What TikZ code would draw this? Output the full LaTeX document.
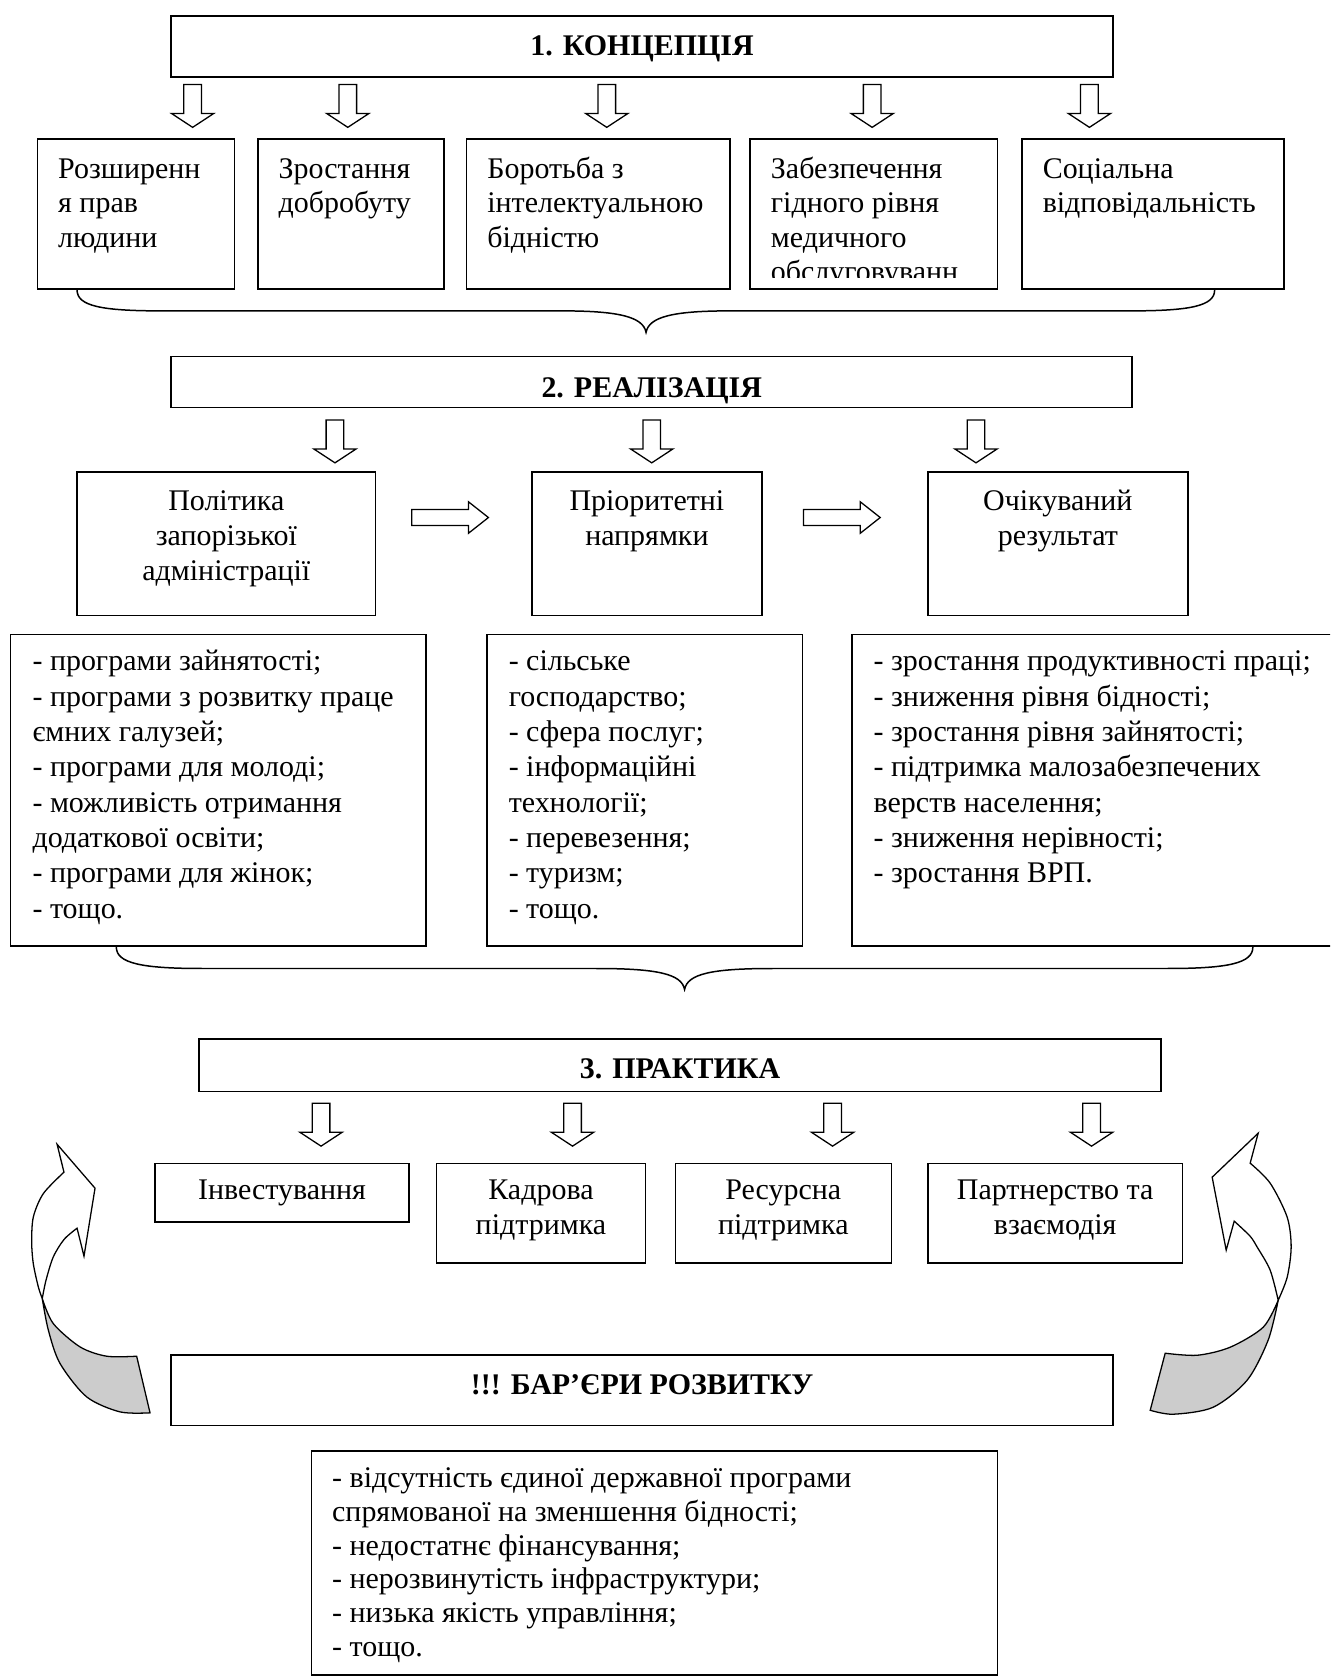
\documentclass[tikz,border=0pt]{standalone}
\usepackage{fontspec}
\setmainfont{Liberation Serif}
\usetikzlibrary{fit}
\tikzset{
  lw/.style={line width=0.7pt},
  box/.style={lw, draw, inner sep=0pt},
  txt/.style={inner sep=0pt, font=\fontsize{14}{16}\selectfont},
  txtb/.style={inner sep=0pt, font=\fontsize{14}{16}\selectfont\bfseries},
  txtr/.style={inner sep=0pt, font=\fontsize{14}{16.25}\selectfont, align=center},
  txtl/.style={inner sep=0pt, font=\fontsize{14}{16.5}\selectfont, align=left},
  txtf/.style={inner sep=0pt, font=\fontsize{14}{15.8}\selectfont, align=left},
  downarr/.pic={\draw[line width=0.6pt, fill=white] (-8.25,0) -- (8.25,0) -- (8.25,27) -- (19.8,27) -- (0,40) -- (-19.8,27) -- (-8.25,27) -- cycle;},
  rightarr/.pic={\draw[line width=0.6pt, fill=white] (0,-7.5) -- (53,-7.5) -- (53,-14.75) -- (71.7,0) -- (53,14.75) -- (53,7.5) -- (0,7.5) -- cycle;},
  ribbonfront/.style={line width=0.6pt, fill=white},
  ribbonback/.style={line width=0.6pt, fill=gray!40}
}
\begin{document}
\begin{tikzpicture}[x=0.5pt,y=-0.5pt]
\useasboundingbox (0,0) rectangle (1243,1568);
\fill[white] (0,0) rectangle (1243,1568);
\clip (0,0) rectangle (1243,1568);

% ---------- 1. Concept ----------
\node[box, fit={(160,15) (1040,72)}] (k1) {};
\node[txtb, anchor=base] (k1t) at (600,52) {1. КОНЦЕПЦІЯ};
\foreach \x in {180,325,567,815,1018} \pic at (\x,79) {downarr};

% (base anchor of a multi-line text = baseline of its last line)
\node[box, fit={(35,130) (219,270)}] (b1) {};
\node[txt, anchor=base west, align=left] (b1t) at (54,231) {Розширенн\\я прав\\людини};
\node[box, fit={(241,130) (415,270)}] (b2) {};
\node[txt, anchor=base west, align=left] (b2t) at (260,199) {Зростання\\добробуту};
\node[box, fit={(436,130) (682,270)}] (b3) {};
\node[txt, anchor=base west, align=left] (b3t) at (455,231) {Боротьба з\\інтелектуальною\\бідністю};
\node[box, fit={(701,130) (932,270)}] (b4) {};
\begin{scope}
\clip (701,130) rectangle (932,259);
\node[txt, anchor=base west, align=left] (b4t) at (720,263) {Забезпечення\\гідного рівня\\медичного\\обслуговуванн};
\end{scope}
\node[box, fit={(955,130) (1200,270)}] (b5) {};
\node[txt, anchor=base west, align=left] (b5t) at (974,199) {Соціальна\\відповідальність};

% brace 1
\draw[lw] (72,271) .. controls (72,286) and (95,290.5) .. (151,290.5) -- (525,290.5)
  .. controls (578,290.5) and (601,296) .. (603.7,310.6)
  .. controls (606.4,296) and (629,290.5) .. (682,290.5) -- (1056,290.5)
  .. controls (1112,290.5) and (1135,286) .. (1135,271);

% ---------- 2. Realisation ----------
\node[box, fit={(160,333) (1058,381)}] (k2) {};
\node[txtb, anchor=base] (k2t) at (609,371) {2. РЕАЛІЗАЦІЯ};
\foreach \x in {313,609,912} \pic at (\x,392.5) {downarr};

\node[box, fit={(72,441) (351,575)}] (c1) {};
\node[txtr, anchor=base] (c1t) at (211.5,542) {Політика\\запорізької\\адміністрації};
\node[box, fit={(497,441) (712,575)}] (c2) {};
\node[txtr, anchor=base] (c2t) at (604.5,509.5) {Пріоритетні\\напрямки};
\node[box, fit={(867,441) (1110,575)}] (c3) {};
\node[txtr, anchor=base] (c3t) at (988.5,509.5) {Очікуваний\\результат};
\pic at (384.7,483.6) {rightarr};
\pic at (750.8,483.6) {rightarr};

\node[box, fit={(10,593) (398,884)}] (d1) {};
\node[txtl, anchor=base west] (d1t) at (30,858) {- програми зайнятості;\\- програми з розвитку праце\\ємних галузей;\\- програми для молоді;\\- можливість отримання\\додаткової освіти;\\- програми для жінок;\\- тощо.};
\node[box, fit={(455,593) (750,884)}] (d2) {};
\node[txtl, anchor=base west] (d2t) at (475,858) {- сільське\\господарство;\\- сфера послуг;\\- інформаційні\\технології;\\- перевезення;\\- туризм;\\- тощо.};
\node[box, fit={(796,593) (1270,884)}] (d3) {};
\node[txtl, anchor=base west] (d3t) at (816,825) {- зростання продуктивності праці;\\- зниження рівня бідності;\\- зростання рівня зайнятості;\\- підтримка малозабезпечених\\верств населення;\\- зниження нерівності;\\- зростання ВРП.};

% brace 2
\draw[lw] (108.7,885) .. controls (108.7,900) and (132,905) .. (188.8,905) -- (557,905)
  .. controls (614,905) and (637,910) .. (639.7,924.6)
  .. controls (642.4,910) and (665,905) .. (722,905) -- (1091,905)
  .. controls (1148,905) and (1170.7,900) .. (1170.7,885);

% ---------- 3. Practice ----------
\node[box, fit={(186,971) (1085,1020)}] (k3) {};
\node[txtb, anchor=base] (k3t) at (635.5,1008) {3. ПРАКТИКА};
\foreach \x in {300,535,778,1020} \pic at (\x,1031) {downarr};

\node[box, fit={(145,1087) (382,1142)}] (e1) {};
\node[txtl, anchor=base, align=center] (e1t) at (263.5,1121) {Інвестування};
\node[box, fit={(408,1087) (603,1180)}] (e2) {};
\node[txtl, anchor=base, align=center] (e2t) at (505.5,1154) {Кадрова\\підтримка};
\node[box, fit={(631,1087) (833,1180)}] (e3) {};
\node[txtl, anchor=base, align=center] (e3t) at (732,1154) {Ресурсна\\підтримка};
\node[box, fit={(867,1087) (1105,1180)}] (e4) {};
\node[txtl, anchor=base, align=center] (e4t) at (986,1154) {Партнерство та\\взаємодія};

% ---------- curved arrows ----------
% left
\path[draw, ribbonback] plot[smooth] coordinates {(39.5,1213.4) (49.8,1236.8) (74.8,1258.6) (99.7,1267.3) (127.7,1267.3)}
  -- (140.2,1320.2)
  -- plot[smooth] coordinates {(140.2,1320.2) (112.1,1319.3) (81,1305.3) (56.1,1274.1) (45.2,1243) (39.5,1213.4)} -- cycle;
\path[draw, ribbonfront] plot[smooth] coordinates {(39.5,1213.4) (35.8,1202.5) (31.1,1180.7) (29.6,1160) (31.2,1137) (40.5,1115.3) (59.8,1095.3)}
  -- (53.3,1069.2) -- (88.8,1110.3) -- (78.5,1173.8)
  -- plot[smooth] coordinates {(72,1147.7) (60,1158) (49.8,1174.5) (43,1196.3) (39.5,1213.4)} -- cycle;
% right
\path[draw, ribbonback] plot[smooth] coordinates {(1194.4,1215) (1180.4,1240.2) (1149.5,1258.9) (1118.7,1266.4) (1088.8,1264.5)}
  -- (1074.8,1317.8)
  -- plot[smooth] coordinates {(1074.8,1317.8) (1096.3,1321.5) (1133.6,1315) (1165.4,1289.7) (1185,1252.3) (1194.4,1215)} -- cycle;
\path[draw, ribbonfront] plot[smooth] coordinates {(1194.4,1215) (1202.8,1193.5) (1206.5,1165.4) (1202.8,1137.4) (1186.9,1105.6) (1168.2,1086.9)}
  -- (1175.7,1058.9) -- (1132.7,1100) -- (1145.8,1168.2)
  -- plot[smooth] coordinates {(1153.3,1141.1) (1168,1155) (1174.8,1165.4) (1186.9,1186.9) (1194.4,1215)} -- cycle;

% ---------- 4. Barriers ----------
\node[box, fit={(160,1266) (1040,1332)}] (k4) {};
\node[txtb, anchor=base] (k4t) at (600,1303) {!!! БАР’ЄРИ РОЗВИТКУ};

\node[box, fit={(291,1356) (932,1565)}] (f) {};
\node[txtf, anchor=base west] (ft) at (310,1548) {- відсутність єдиної державної програми\\спрямованої на зменшення бідності;\\- недостатнє фінансування;\\- нерозвинутість інфраструктури;\\- низька якість управління;\\- тощо.};
\end{tikzpicture}
\end{document}
